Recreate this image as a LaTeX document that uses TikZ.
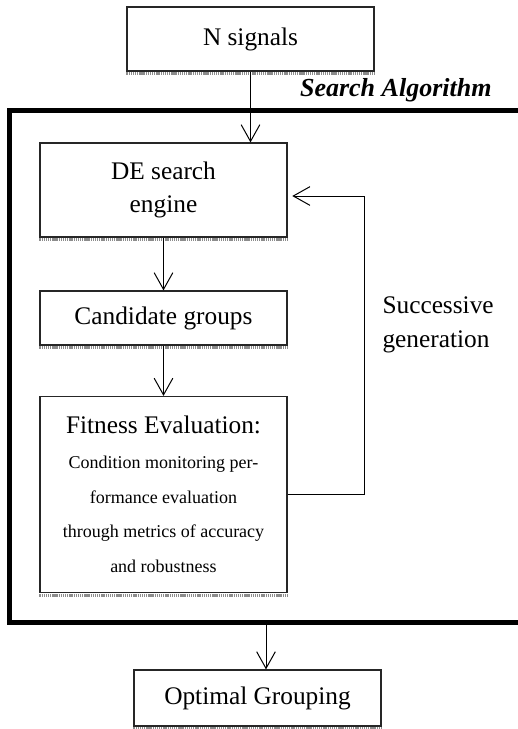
\documentclass[tikz,border=0pt]{standalone}
\usepackage{fontspec}
\setmainfont{Liberation Serif}
\usetikzlibrary{%
  arrows.meta,%
  positioning,% wg. " of "
  calc%
}

\begin{document}
\begin{tikzpicture}[
  x=0.75pt, y=-0.75pt,
  font=\fontsize{19}{24.5}\selectfont,
  >={Straight Barb[length=12.5pt,width=14pt]},
  line width=0.75pt,
  block/.style={rectangle, draw=black!85, line width=0.9pt, minimum width=185.25pt, inner sep=0pt, align=center},
  shade line/.style={draw=black!45, line width=2.2pt, dash pattern=on 1pt off 0.6pt},
  frame/.style={line width=3.75pt}]

\useasboundingbox (0,0) rectangle (518,729);

\node[block, minimum height=48pt] (sig) at (250.5,39) {N signals};
\node[block, minimum height=70.5pt] (de) at (163.5,190) {DE search\\engine};
\node[block, minimum height=40.5pt] (cand) at (163.5,318) {Candidate groups};
\node[block, minimum height=147pt, font=\fontsize{13.5}{26}\selectfont] (fit) at (163.5,494.5)
  {{\fontsize{19}{26}\selectfont Fitness Evaluation:}\\Condition monitoring per-\\formance evaluation\\through metrics of accuracy\\and robustness};
\node[block, minimum height=42pt] (opt) at (257.5,698) {Optimal Grouping};

\foreach \b in {sig,de,cand,fit,opt} {
  \draw[shade line] ([yshift=-1.6pt]\b.south west) -- ([yshift=-1.6pt]\b.south east);
}

\coordinate (ftl) at (9.5,110);
\coordinate (fbl) at (9.5,622);
\draw[frame] (530,110) -- (ftl) -- (fbl) -- (530,622);

\node[font=\fontsize{19.5}{24}\selectfont\bfseries\itshape, anchor=base east, inner sep=0pt] (alg) at (492,96) {Search Algorithm};
\node[align=left, font=\fontsize{19}{26}\selectfont, anchor=west, inner sep=0pt] (gen) at (382,325) {Successive\\generation};

\draw [->] (sig.south) -- (sig.south |- de.north);
\draw [->] (de.south) -- (cand.north);
\draw [->] (cand.south) -- (fit.north);

\coordinate (fb) at (364,196);
\draw [->, shorten >=3.5pt] (fit.east) -| (fb) -- (fb -| de.east);

\coordinate (out) at (266,622);
\draw [->] (out) -- (out |- opt.north);

\end{tikzpicture}
\end{document}
